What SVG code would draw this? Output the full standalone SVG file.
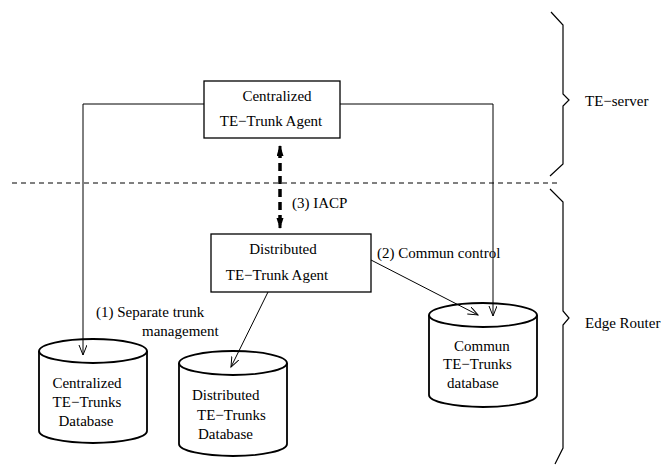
<svg xmlns="http://www.w3.org/2000/svg" width="662" height="465" viewBox="0 0 662 465" font-family="'Liberation Serif', 'Times New Roman', 'DejaVu Serif', serif">
<defs>
<style>
text{font-family:"Liberation Serif","Times New Roman","DejaVu Serif",serif;font-size:15px;fill:#000}
.box{fill:#fff;stroke:#000;stroke-width:1.3}
.cyl{fill:#fff;stroke:#000;stroke-width:1.8}
.conn{fill:none;stroke:#000;stroke-width:1}
.iacp{fill:none;stroke:#000;stroke-width:3.5;stroke-dasharray:8 5}
.sep{fill:none;stroke:#000;stroke-width:1;stroke-dasharray:5 4}
.brace{fill:none;stroke:#000;stroke-width:1.2}
.mid{text-anchor:middle}
</style>
<marker id="arr" markerWidth="12" markerHeight="10" refX="10" refY="4" orient="auto" markerUnits="userSpaceOnUse">
<path d="M0,0 L10,4 L0,8" fill="none" stroke="#000" stroke-width="1"/>
</marker>
<marker id="harr" markerWidth="12" markerHeight="8" refX="10" refY="3.5" orient="auto" markerUnits="userSpaceOnUse">
<path d="M0,0 L11,3.5 L0,7 Z" fill="#000"/>
</marker>
</defs>
<rect width="662" height="465" fill="#fff"/>

<g id="separator">
<line class="sep" x1="12" y1="183" x2="557" y2="183"/>
</g>

<g id="central-agent">
<rect class="box" x="204" y="81" width="136" height="57"/>
<text class="mid" x="277" y="101" font-family="Liberation Serif, serif">Centralized</text>
<text class="mid" x="271" y="126" font-family="Liberation Serif, serif">TE−Trunk Agent</text>
</g>

<g id="distributed-agent">
<rect class="box" x="211" y="234" width="160" height="58"/>
<text class="mid" x="283" y="254" font-family="Liberation Serif, serif">Distributed</text>
<text class="mid" x="277" y="280" font-family="Liberation Serif, serif">TE−Trunk Agent</text>
</g>

<g id="central-db">
<path class="cyl" d="M39,351 L39,431 A54,12 0 0 0 147,431 L147,351"/>
<ellipse class="cyl" cx="93" cy="351" rx="54" ry="12"/>
<text class="mid" x="87" y="388" font-family="Liberation Serif, serif">Centralized</text>
<text class="mid" x="87" y="407" font-family="Liberation Serif, serif">TE−Trunks</text>
<text class="mid" x="86" y="426" font-family="Liberation Serif, serif">Database</text>
</g>

<g id="distributed-db">
<path class="cyl" d="M179,363 L179,444 A54,12 0 0 0 287,444 L287,363"/>
<ellipse class="cyl" cx="233" cy="363" rx="54" ry="12"/>
<text x="192" y="400" font-family="Liberation Serif, serif">Distributed</text>
<text x="197" y="420" font-family="Liberation Serif, serif">TE−Trunks</text>
<text x="198" y="439" font-family="Liberation Serif, serif">Database</text>
</g>

<g id="commun-db">
<path class="cyl" d="M429,315 L429,395 A54,12 0 0 0 537,395 L537,315"/>
<ellipse class="cyl" cx="483" cy="315" rx="54" ry="12"/>
<text x="454" y="351" font-family="Liberation Serif, serif">Commun</text>
<text x="443" y="369" font-family="Liberation Serif, serif">TE−Trunks</text>
<text x="447" y="388" font-family="Liberation Serif, serif">database</text>
</g>

<g id="te-server">
<path class="brace" d="M551,12 L563,25 L563,94 L569,100 L563,106 L563,164 L550,176"/>
<text x="585" y="106" font-family="Liberation Serif, serif">TE−server</text>
</g>

<g id="edge-router">
<path class="brace" d="M550,189 L563,202 L563,311 L569,318 L563,325 L563,448 L555,464"/>
<text x="585" y="328" font-family="Liberation Serif, serif">Edge Router</text>
</g>

<g id="connectors">
<polyline class="conn" points="204,104 83,104 83,355" marker-end="url(#arr)"/>
<polyline class="conn" points="340,104 493,104 493,316" marker-end="url(#arr)"/>
<line class="conn" x1="268" y1="292" x2="231" y2="367" marker-end="url(#arr)"/>
<line class="conn" x1="371" y1="260" x2="478" y2="315" marker-end="url(#arr)"/>
<line class="iacp" x1="280" y1="150" x2="280" y2="224"/>
<line x1="280" y1="150" x2="280" y2="146" stroke="#000" stroke-width="3" marker-end="url(#harr)"/>
<line x1="280" y1="224" x2="280" y2="228" stroke="#000" stroke-width="3" marker-end="url(#harr)"/>
<text x="292" y="208" font-family="Liberation Serif, serif">(3) IACP</text>
<text x="377" y="258" font-family="Liberation Serif, serif">(2) Commun control</text>
<text x="96" y="317" font-family="Liberation Serif, serif">(1) Separate trunk</text>
<text x="142" y="336" font-family="Liberation Serif, serif">management</text>
</g>
</svg>
